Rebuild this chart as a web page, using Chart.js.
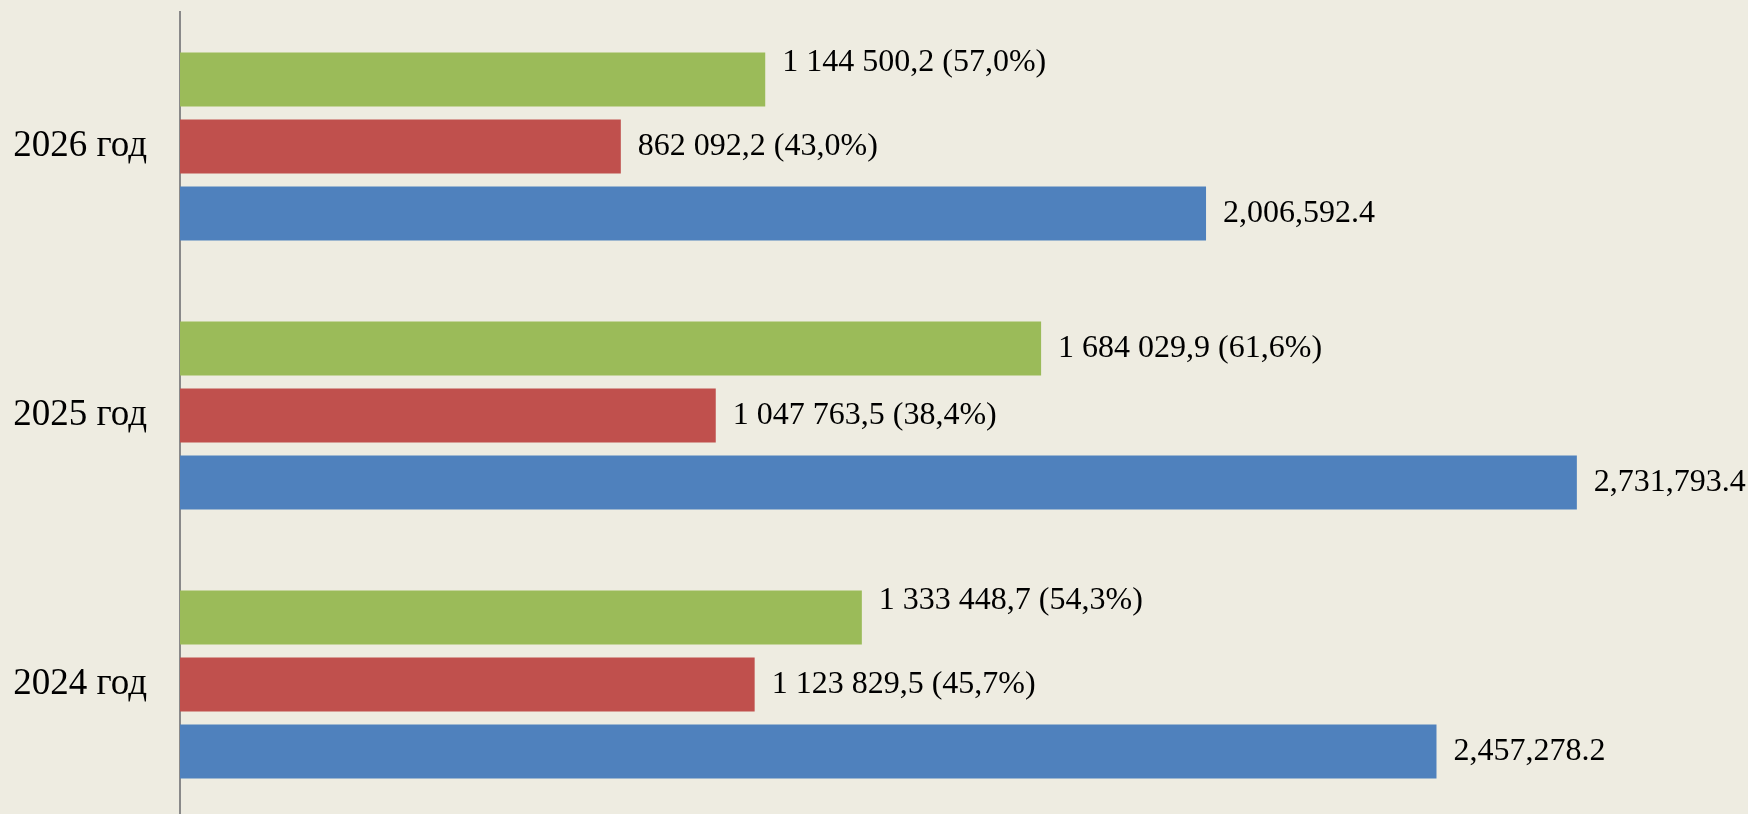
<!DOCTYPE html>
<html>
<head>
    <title>Бюджет 2024-2026</title>
    <script src="https://cdn.jsdelivr.net/npm/chart.js"></script>
    <style>
        body {
            margin: 0;
            background: #EEECE1;
            overflow: hidden;
        }
        #wrap {
            position: absolute;
            left: 0;
            top: 0;
            width: 1748px;
            height: 822px;
        }
    </style>
</head>
<body>
    <div id="wrap"><canvas id="chart"></canvas></div>

    <script>
        // Data (top to bottom)
        const years = ['2026 год', '2025 год', '2024 год'];
        const greenValues = [1144500.2, 1684029.9, 1333448.7];
        const redValues = [862092.2, 1047763.5, 1123829.5];
        const blueValues = [2006592.4, 2731793.4, 2457278.2];

        // "1 144 500,2 (57,0%)" style for the parts, "2,006,592.4" for the totals
        function ruLabel(v, i) {
            const num = v.toFixed(1).replace('.', ',').replace(/\B(?=(\d{3})+(?!\d))/g, ' ');
            const pct = (v / blueValues[i] * 100).toFixed(1).replace('.', ',');
            return num + ' (' + pct + '%)';
        }
        function enLabel(v) {
            return v.toLocaleString('en-US', { minimumFractionDigits: 1, maximumFractionDigits: 1 });
        }

        const barLabels = {
            id: 'barLabels',
            afterDatasetsDraw(chart, args, opts) {
                const ctx = chart.ctx;
                ctx.save();
                ctx.font = opts.font;
                ctx.fillStyle = '#000';
                ctx.textAlign = 'left';
                ctx.textBaseline = 'middle';
                chart.data.datasets.forEach((ds, d) => {
                    chart.getDatasetMeta(d).data.forEach((bar, i) => {
                        const txt = ds.labelFn(ds.data[i], i);
                        const dy = opts.shift[d + '-' + i] || 0;
                        ctx.fillText(txt, bar.x + opts.gap, bar.y + dy);
                    });
                });
                ctx.restore();
            }
        };

        Chart.defaults.font.family = '"Liberation Serif", "Times New Roman", serif';
        Chart.defaults.color = '#000';

        new Chart(document.getElementById('chart'), {
            type: 'bar',
            data: {
                labels: years,
                datasets: [{
                    data: greenValues,
                    backgroundColor: '#9BBB59',
                    labelFn: ruLabel
                }, {
                    data: redValues,
                    backgroundColor: '#C0504D',
                    labelFn: ruLabel
                }, {
                    data: blueValues,
                    backgroundColor: '#4F81BD',
                    labelFn: enLabel
                }]
            },
            options: {
                indexAxis: 'y',
                responsive: true,
                maintainAspectRatio: false,
                animation: false,
                categoryPercentage: 0.747,
                barPercentage: 0.806,
                layout: { padding: { top: 12, bottom: 3, right: 34, left: 0 } },
                plugins: {
                    legend: { display: false },
                    tooltip: { enabled: false },
                    barLabels: {
                        font: '32px "Liberation Serif", "Times New Roman", serif',
                        gap: 17,
                        shift: { '0-0': -17, '0-2': -17 }
                    }
                },
                scales: {
                    x: {
                        display: false,
                        min: 0,
                        max: 3000000
                    },
                    y: {
                        grid: { display: false, drawTicks: false },
                        border: { display: true, color: '#898989', width: 2 },
                        ticks: {
                            font: { size: 37 },
                            padding: 33
                        },
                        afterFit(scale) {
                            scale.width = 180;
                            scale.paddingTop = 0;
                            scale.paddingBottom = 0;
                        }
                    }
                }
            },
            plugins: [barLabels]
        });
    </script>
</body>
</html>
